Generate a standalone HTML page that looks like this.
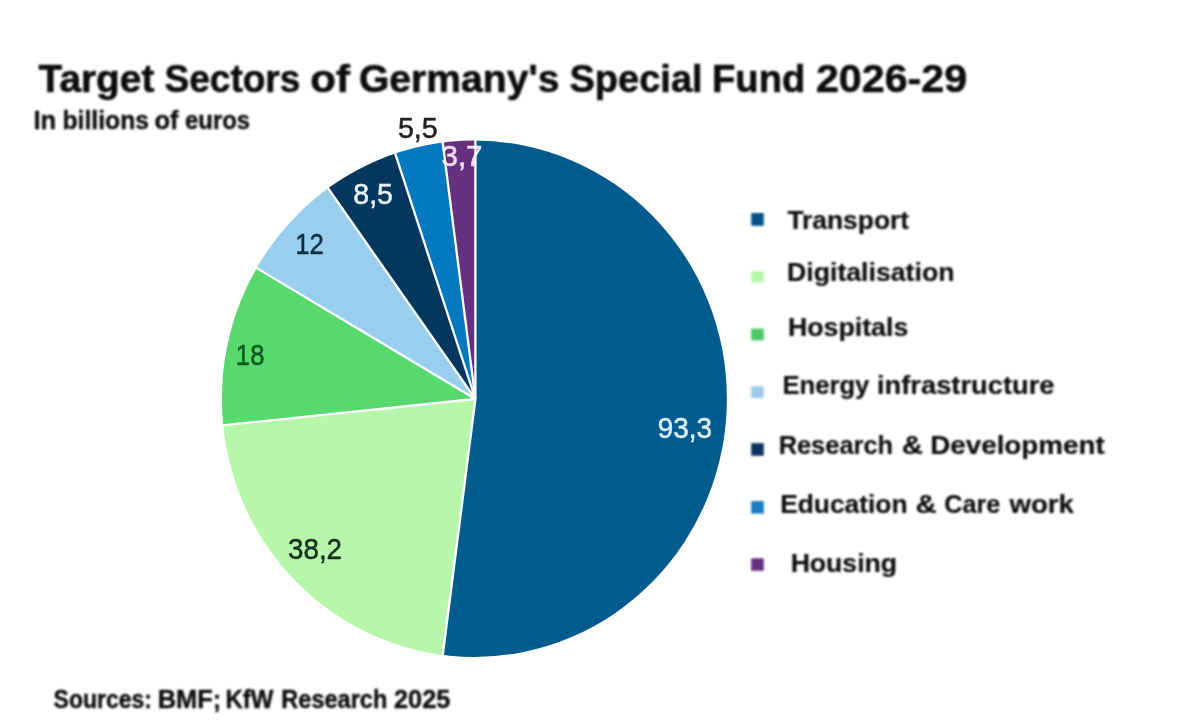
<!DOCTYPE html>
<html lang="en"><head><meta charset="utf-8"><title>Target Sectors of Germany's Special Fund 2026-29</title>
<style>
html,body{margin:0;padding:0;background:#fff;}
body{width:1200px;height:725px;overflow:hidden;}
svg{display:block;font-family:"Liberation Sans",sans-serif;}
.b1{filter:blur(0.85px);}
.b2{filter:blur(0.5px);}
</style></head><body>
<svg width="1200" height="725" viewBox="0 0 1200 725">
<defs><clipPath id="pie"><ellipse cx="474.4" cy="398.7" rx="252.5" ry="258.2"/></clipPath></defs>
<rect width="1200" height="725" fill="#fff"/>
<g class="b2">
<g clip-path="url(#pie)">
<path d="M475.4,399.0 L475.4,-21.0 L545.7,-14.8 L614.0,3.7 L678.2,33.8 L736.3,74.7 L786.8,125.3 L828.0,183.9 L858.8,248.9 L878.3,318.3 L885.9,390.1 L881.3,462.2 L864.7,532.4 L836.6,598.6 L797.9,659.0 L749.5,711.7 L693.1,755.1 L630.3,788.0 L562.8,809.4 L492.8,818.6 L422.3,815.5 Z" fill="#005b8f"/>
<path d="M475.4,399.0 L422.3,815.5 L355.2,800.6 L291.4,774.5 L232.9,737.9 L181.0,691.8 L137.5,637.5 L103.3,576.6 L79.6,510.7 L67.0,441.6 Z" fill="#b6f7a9"/>
<path d="M475.4,399.0 L67.0,441.6 L65.5,375.5 L74.2,309.9 L92.9,246.5 L121.0,186.9 Z" fill="#57d96d"/>
<path d="M475.4,399.0 L121.0,186.9 L153.5,138.3 L192.3,94.8 L236.6,57.3 Z" fill="#99cfee"/>
<path d="M475.4,399.0 L236.6,57.3 L288.9,24.8 L345.2,0.7 Z" fill="#04375d"/>
<path d="M475.4,399.0 L345.2,0.7 L383.3,-10.3 L422.3,-17.5 Z" fill="#0479bf"/>
<path d="M475.4,399.0 L422.3,-17.5 L475.4,-21.0 Z" fill="#65307d"/>
</g>
<text x="441.50" y="165.9" font-size="29.5" fill="#f0def7" stroke="#f0def7" stroke-width="0.5" textLength="41.02" lengthAdjust="spacingAndGlyphs">3,7</text>
<g stroke="#fff" stroke-width="2.3" stroke-linecap="butt">
<line x1="475.4" y1="399.0" x2="475.40" y2="129.00"/>
<line x1="475.4" y1="399.0" x2="441.26" y2="666.73"/>
<line x1="475.4" y1="399.0" x2="212.83" y2="426.41"/>
<line x1="475.4" y1="399.0" x2="247.60" y2="262.64"/>
<line x1="475.4" y1="399.0" x2="321.91" y2="179.35"/>
<line x1="475.4" y1="399.0" x2="391.73" y2="142.93"/>
<line x1="475.4" y1="399.0" x2="441.26" y2="131.27"/>
</g>
<g><text x="397.93" y="137.8" font-size="29.5" fill="#222" stroke="#222" stroke-width="0.5" textLength="39.86" lengthAdjust="spacingAndGlyphs">5,5</text>
<text x="353.33" y="204.2" font-size="29.5" fill="#e8f0fa" stroke="#e8f0fa" stroke-width="0.5" textLength="39.65" lengthAdjust="spacingAndGlyphs">8,5</text>
<text x="295.25" y="254" font-size="29.5" fill="#0e2f40" stroke="#0e2f40" stroke-width="0.5" textLength="28.75" lengthAdjust="spacingAndGlyphs">12</text>
<text x="235.86" y="364.6" font-size="29.5" fill="#0a5a22" stroke="#0a5a22" stroke-width="0.5" textLength="28.56" lengthAdjust="spacingAndGlyphs">18</text>
<text x="288.06" y="559" font-size="29.5" fill="#16321b" stroke="#16321b" stroke-width="0.5" textLength="53.98" lengthAdjust="spacingAndGlyphs">38,2</text>
<text x="657.75" y="438.2" font-size="29.5" fill="#dcefff" stroke="#dcefff" stroke-width="0.5" textLength="54.29" lengthAdjust="spacingAndGlyphs">93,3</text></g>
</g>
<g class="b1">
<g>
<text y="92.3" font-size="38" font-weight="bold" fill="#0c0c0c" stroke="#0c0c0c" stroke-width="0.6"><tspan x="38.60" textLength="115.74" lengthAdjust="spacingAndGlyphs">Target</tspan> <tspan x="164.53" textLength="135.84" lengthAdjust="spacingAndGlyphs">Sectors</tspan> <tspan x="310.29" textLength="39.57" lengthAdjust="spacingAndGlyphs">of</tspan> <tspan x="358.94" textLength="200.53" lengthAdjust="spacingAndGlyphs">Germany's</tspan> <tspan x="569.50" textLength="133.08" lengthAdjust="spacingAndGlyphs">Special</tspan> <tspan x="711.98" textLength="93.39" lengthAdjust="spacingAndGlyphs">Fund</tspan> <tspan x="815.92" textLength="151.18" lengthAdjust="spacingAndGlyphs">2026-29</tspan></text>
<text y="129.0" font-size="25" font-weight="bold" fill="#0c0c0c" stroke="#0c0c0c" stroke-width="0.4"><tspan x="33.45" textLength="22.80" lengthAdjust="spacingAndGlyphs">In</tspan> <tspan x="62.52" textLength="86.46" lengthAdjust="spacingAndGlyphs">billions</tspan> <tspan x="154.48" textLength="24.12" lengthAdjust="spacingAndGlyphs">of</tspan> <tspan x="185.05" textLength="65.00" lengthAdjust="spacingAndGlyphs">euros</tspan></text>
<text y="707.5" font-size="25.5" font-weight="bold" fill="#0c0c0c" stroke="#0c0c0c" stroke-width="0.4"><tspan x="53.60" textLength="98.32" lengthAdjust="spacingAndGlyphs">Sources:</tspan> <tspan x="157.70" textLength="63.63" lengthAdjust="spacingAndGlyphs">BMF;</tspan> <tspan x="225.41" textLength="48.07" lengthAdjust="spacingAndGlyphs">KfW</tspan> <tspan x="281.35" textLength="105.93" lengthAdjust="spacingAndGlyphs">Research</tspan> <tspan x="394.01" textLength="56.42" lengthAdjust="spacingAndGlyphs">2025</tspan></text>
</g>
<g>
<rect x="751.2" y="213.0" width="12.6" height="12.8" fill="#0a5188"/>
<text y="229.4" font-size="26" font-weight="bold" fill="#0c0c0c" stroke="#0c0c0c" stroke-width="0.2"><tspan x="787.40" textLength="121.72" lengthAdjust="spacingAndGlyphs">Transport</tspan></text>
<rect x="751.2" y="271.2" width="12.6" height="11.2" fill="#b6f7a9"/>
<text y="280.8" font-size="26" font-weight="bold" fill="#0c0c0c" stroke="#0c0c0c" stroke-width="0.2"><tspan x="787.05" textLength="167.43" lengthAdjust="spacingAndGlyphs">Digitalisation</tspan></text>
<rect x="751.2" y="328.6" width="12.6" height="11.8" fill="#4fc766"/>
<text y="335.8" font-size="26" font-weight="bold" fill="#0c0c0c" stroke="#0c0c0c" stroke-width="0.2"><tspan x="787.94" textLength="120.32" lengthAdjust="spacingAndGlyphs">Hospitals</tspan></text>
<rect x="751.2" y="386.3" width="12.6" height="11.8" fill="#9acbe8"/>
<text y="394.4" font-size="26" font-weight="bold" fill="#0c0c0c" stroke="#0c0c0c" stroke-width="0.2"><tspan x="782.43" textLength="86.93" lengthAdjust="spacingAndGlyphs">Energy</tspan> <tspan x="877.00" textLength="177.50" lengthAdjust="spacingAndGlyphs">infrastructure</tspan></text>
<rect x="751.2" y="443.2" width="12.6" height="12.6" fill="#0b3362"/>
<text y="454.0" font-size="26" font-weight="bold" fill="#0c0c0c" stroke="#0c0c0c" stroke-width="0.2"><tspan x="778.65" textLength="114.41" lengthAdjust="spacingAndGlyphs">Research</tspan> <tspan x="901.87" textLength="21.21" lengthAdjust="spacingAndGlyphs">&amp;</tspan> <tspan x="930.26" textLength="174.42" lengthAdjust="spacingAndGlyphs">Development</tspan></text>
<rect x="751.2" y="501.0" width="12.6" height="12.6" fill="#1a7fc0"/>
<text y="512.7" font-size="26" font-weight="bold" fill="#0c0c0c" stroke="#0c0c0c" stroke-width="0.2"><tspan x="780.17" textLength="127.42" lengthAdjust="spacingAndGlyphs">Education</tspan> <tspan x="915.47" textLength="21.21" lengthAdjust="spacingAndGlyphs">&amp;</tspan> <tspan x="944.23" textLength="56.07" lengthAdjust="spacingAndGlyphs">Care</tspan> <tspan x="1009.40" textLength="64.53" lengthAdjust="spacingAndGlyphs">work</tspan></text>
<rect x="751.2" y="558.3" width="12.6" height="12.5" fill="#65307d"/>
<text y="572.3" font-size="26" font-weight="bold" fill="#0c0c0c" stroke="#0c0c0c" stroke-width="0.2"><tspan x="790.65" textLength="106.39" lengthAdjust="spacingAndGlyphs">Housing</tspan></text>
</g>
</g>
</svg>
</body></html>
